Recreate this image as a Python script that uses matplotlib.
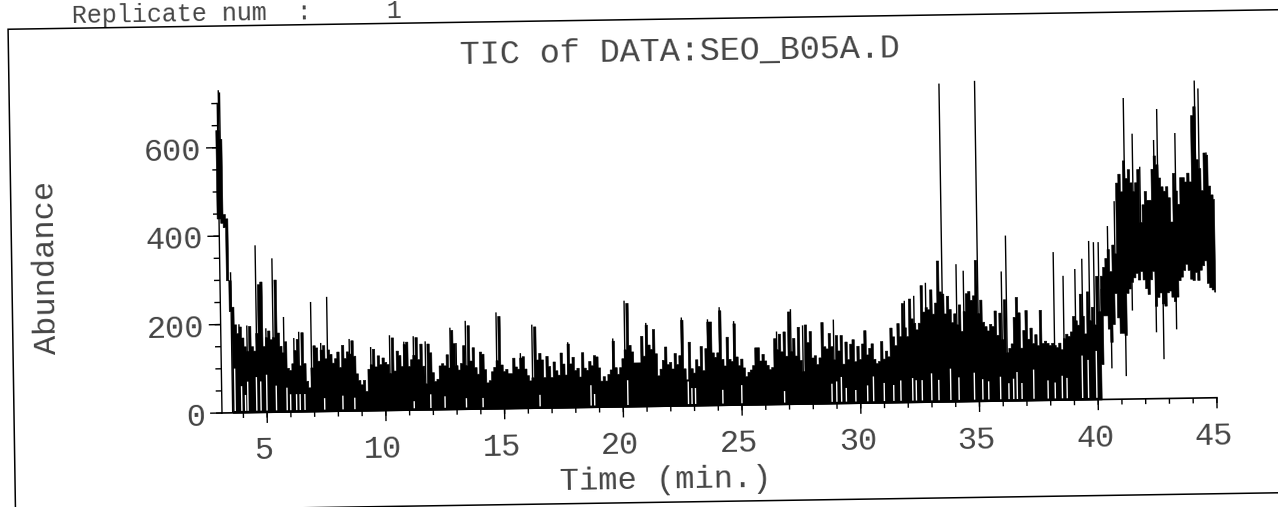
import numpy as np
import matplotlib
matplotlib.use('Agg')
import matplotlib.pyplot as plt
from matplotlib.patches import Rectangle
from matplotlib.transforms import Affine2D

# upper edge of the trace, one value per 0.1 min from 3.0 min
trace_top = [
    640, 640, 620, 450, 440, 300, 240, 200, 180, 195, 170,
    150, 140, 196, 150, 140, 180, 290, 296, 150, 170,
    185, 165, 170, 300, 180, 150, 135, 160, 100, 95,
    110, 140, 165, 105, 180, 110, 70, 55, 100, 150,
    145, 115, 140, 150, 120, 140, 130, 110, 120, 135,
    100, 150, 120, 135, 130, 160, 125, 85, 70, 60,
    70, 45, 95, 105, 140, 100, 125, 105, 120, 110,
    105, 85, 165, 90, 135, 125, 100, 150, 155, 100,
    115, 125, 165, 115, 150, 100, 60, 150, 130, 85,
    65, 70, 100, 105, 100, 125, 95, 180, 150, 100,
    90, 105, 145, 100, 190, 110, 140, 95, 80, 130,
    125, 90, 60, 65, 85, 95, 110, 210, 100, 85,
    90, 80, 80, 115, 95, 90, 115, 118, 90, 75,
    63, 70, 185, 110, 125, 110, 70, 118, 95, 70,
    105, 85, 75, 125, 100, 75, 145, 100, 115, 85,
    90, 70, 125, 90, 85, 105, 95, 118, 115, 90,
    60, 70, 60, 75, 85, 150, 90, 75, 90, 110,
    130, 235, 140, 125, 100, 100, 100, 160, 115, 185,
    140, 130, 175, 120, 70, 85, 105, 135, 95, 100,
    85, 120, 95, 115, 195, 85, 60, 145, 85, 75,
    105, 90, 135, 80, 130, 190, 190, 120, 110, 120,
    215, 105, 90, 155, 105, 100, 185, 110, 90, 105,
    85, 65, 75, 80, 90, 130, 130, 100, 115, 100,
    90, 80, 85, 150, 125, 160, 120, 165, 110, 210,
    120, 150, 110, 175, 100, 75, 180, 140, 165, 105,
    110, 90, 105, 185, 130, 125, 160, 130, 100, 155,
    120, 155, 90, 140, 100, 135, 145, 95, 130, 100,
    135, 165, 110, 125, 135, 100, 90, 95, 140, 100,
    118, 105, 170, 150, 130, 180, 150, 225, 170, 150,
    235, 190, 180, 165, 180, 265, 205, 215, 210, 255,
    200, 225, 320, 250, 245, 200, 240, 210, 180, 200,
    175, 220, 160, 205, 245, 250, 230, 240, 320, 200,
    230, 180, 170, 160, 175, 170, 205, 150, 200, 140,
    230, 110, 120, 130, 190, 235, 200, 120, 160, 205,
    140, 165, 130, 150, 125, 205, 130, 135, 130, 125,
    130, 125, 120, 130, 115, 140, 150, 145, 155, 190,
    180, 170, 240, 190, 150, 245, 180, 210, 170, 280,
    200, 280, 300, 320, 340, 290, 350, 330, 490, 510,
    470, 540, 500, 520, 490, 470, 490, 520, 400, 440,
    470, 450, 450, 520, 550, 530, 500, 480, 470, 480,
    455, 400, 510, 470, 440, 500, 500, 490, 510, 490,
    640, 660, 540, 520, 470, 555, 550, 480, 460, 450,
]

# lower edge where the trace lifts off the baseline, start and end of the run
floor_start = [440, 440, 430, 420, 300, 230]
floor_end = [
    80, 190, 190, 160, 130, 170, 240, 185, 150,
    150, 145, 240, 250, 265, 275, 285, 270, 289, 270,
    250, 237, 270, 289, 210, 230, 240, 215, 210, 240,
    244, 230, 220, 230, 267, 275, 290, 304, 290, 270,
    267, 285, 267, 290, 300, 311, 260, 250, 245, 240,
]

# thin peaks standing above the trace
peak_times = [3.15, 3.2, 3.55, 4.6, 5.3, 5.75, 6.9, 7.58, 10.2, 12.75, 13.4, 14.7, 16.2,
              20.1, 22.5, 24.1, 27.1, 33.5, 34.1, 34.4, 35.0, 36.0, 36.2, 38.2, 38.6,
              39.1, 39.4, 39.7, 39.9, 40.1, 40.5, 40.8, 41.25, 41.6, 41.9, 42.5, 42.65,
              43.4, 44.25, 44.4, 44.7,
              3.87, 4.2, 5.0, 6.17, 6.38, 7.3, 8.5, 9.4, 10.8, 11.2, 11.7, 13.0, 15.7,
              17.7, 19.6, 21.0, 23.6, 24.7, 26.5, 27.6, 28.9, 31.9, 32.3, 32.8]
peak_tops = [730, 725, 318, 378, 348, 215, 248, 259, 170, 185, 200, 218, 189,
             240, 200, 222, 215, 720, 311, 296, 725, 293, 374, 335, 281,
             296, 319, 359, 356, 356, 392, 448, 681, 600, 525, 585, 655,
             600, 718, 700, 555,
             200, 197, 190, 167, 181, 155, 163, 144, 155, 167, 155, 150, 125,
             148, 155, 189, 195, 190, 165, 178, 190, 230, 241, 270]
peak_bases = [440, 440, 0, 0, 0, 0, 0, 0, 0, 0, 0, 0, 0,
              0, 0, 0, 0, 0, 0, 0, 0, 0, 0, 0, 0,
              0, 0, 0, 0, 0, 200, 250, 300, 300, 300, 300, 300,
              300, 300, 300, 300,
              0, 0, 0, 0, 0, 0, 0, 0, 0, 0, 0, 0, 0,
              0, 0, 0, 0, 0, 0, 0, 0, 0, 0, 0]

# thin dips below the trace on the rising part
dip_times = [40.2, 40.6, 41.2, 41.5, 42.5, 42.8, 43.35]
dip_lows = [81, 70, 52, 200, 150, 89, 156]
dip_tops = [250, 200, 200, 300, 300, 300, 300]

# white slits reaching up from the baseline
slit_times = [3.66, 3.94, 4.1, 4.2, 4.57, 4.75, 5.0, 5.4, 5.85, 6.0, 6.25, 6.4, 6.6, 7.43,
              8.2, 8.7, 11.2, 11.9, 12.5, 13.4, 14.1, 16.5, 18.65, 18.8, 20.2, 22.75, 22.9,
              23.05, 24.2, 25.0, 26.8, 28.8, 29.0, 29.2, 29.4, 29.8, 30.3, 30.55, 31.0, 31.4,
              31.7, 32.2, 32.35, 32.6, 33.0, 33.3, 33.8, 34.15, 34.8, 35.15, 35.4, 35.9,
              36.25, 36.45, 36.6, 36.8, 37.3, 37.9, 38.2, 38.5, 38.7, 39.35, 39.6, 39.95]
slit_tops = [100, 60, 40, 70, 80, 70, 85, 60, 55, 40, 40, 40, 40, 30,
             35, 30, 20, 35, 30, 25, 25, 30, 50, 30, 60, 55, 40,
             40, 35, 45, 30, 45, 50, 60, 35, 30, 40, 60, 45, 40,
             50, 55, 50, 50, 65, 50, 75, 55, 65, 50, 45, 55,
             40, 50, 65, 40, 70, 45, 40, 55, 50, 100, 90, 110]

x_ticks = list(range(4, 46))
x_labels = [5, 10, 15, 20, 25, 30, 35, 40, 45]
y_ticks = list(range(0, 701, 50))
y_labels = [0, 200, 400, 600]

TILT = 0.88  # the page sits slightly crooked on the scanner
INK = 'black'
TEXT = '#444444'
FONT = 'Liberation Mono'

W, H = 1278, 507
fig = plt.figure(figsize=(W / 100, H / 100), dpi=100, facecolor='white')
ax = fig.add_axes([222 / W, 94 / H, 995 / W, 325 / H])
ax.set_xlim(3.1, 45)
ax.set_ylim(0, 735)
ax.set_autoscale_on(False)
ax.axis('off')

page = Affine2D().rotate_deg_around(222, 94, TILT)
tilted = ax.transData + page

times = 3.0 + 0.1 * np.arange(len(trace_top))
floor = np.concatenate([floor_start, np.zeros(len(trace_top) - len(floor_start) - len(floor_end)), floor_end])

ax.fill_between(times, floor, trace_top, step='mid', color=INK, lw=0.4, transform=tilted, clip_on=False)
ax.vlines(peak_times, peak_bases, peak_tops, color=INK, lw=1.0, transform=tilted, clip_on=False)
ax.vlines(dip_times, dip_lows, dip_tops, color=INK, lw=1.0, transform=tilted, clip_on=False)
ax.vlines(slit_times, 4, slit_tops, color='white', lw=1.0, transform=tilted, clip_on=False)

# axes are drawn by hand so they tilt with the trace
ax.plot([3.1, 45], [0, 0], color=INK, lw=1.2, transform=tilted, clip_on=False)
ax.plot([3.1, 3.1], [0, 700], color=INK, lw=1.0, transform=tilted, clip_on=False)
ax.vlines(x_ticks, -12, 0, color=INK, lw=1.0, transform=tilted, clip_on=False)
ax.vlines(x_labels, -24, 0, color=INK, lw=1.0, transform=tilted, clip_on=False)
ax.hlines(y_ticks, 2.85, 3.1, color=INK, lw=1.0, transform=tilted, clip_on=False)
ax.hlines(y_labels, 2.6, 3.1, color=INK, lw=1.0, transform=tilted, clip_on=False)


def put(x, y, s, size=23, **kw):
    kw.setdefault('ha', 'center')
    kw.setdefault('va', 'center')
    ax.text(x, y, s, transform=tilted, family=FONT, fontsize=size, color=TEXT,
            rotation_mode='anchor', clip_on=False, **kw)


for t in x_labels:
    put(t - 0.15, -88, str(t), rotation=TILT)
for v in y_labels:
    put(2.4, v - 9, str(v), ha='right', rotation=TILT)

put(22.6, 800, 'TIC of DATA:SEO_B05A.D', size=24, rotation=TILT)
put(21.75, -167, 'Time (min.)', rotation=TILT)
put(-4.2, 334, 'Abundance', rotation=90 + TILT)
put(-2.96, 886, 'Replicate num  :     1', size=18, ha='left', va='baseline', rotation=TILT)

fig.add_artist(Rectangle((14, -2), 1400, 483, fill=False, ec=INK, lw=1.1,
                         transform=page, clip_on=False))

fig.savefig('out.png', dpi=100)
